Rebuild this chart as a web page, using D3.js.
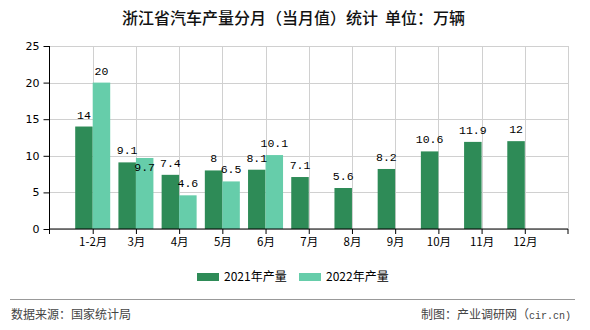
<!DOCTYPE html>
<html>
<head>
<meta charset="utf-8">
<script src="https://cdn.jsdelivr.net/npm/d3@7/dist/d3.min.js"></script>
<style>
  html, body { margin: 0; padding: 0; background: #fff; }
  svg { display: block; font-family: "Noto Sans CJK SC", "DejaVu Sans", sans-serif; }
</style>
</head>
<body>
<svg id="chart" width="590" height="330"></svg>
<script>
// Monthly car output of Zhejiang province (10k vehicles)
const months = ["1-2月", "3月", "4月", "5月", "6月", "7月", "8月", "9月", "10月", "11月", "12月"];
const output2021 = [14, 9.1, 7.4, 8, 8.1, 7.1, 5.6, 8.2, 10.6, 11.9, 12];
const output2022 = [20, 9.7, 4.6, 6.5, 10.1, null, null, null, null, null, null];
const seriesNames = ["2021年产量", "2022年产量"];
const seriesColors = ["#2e8b57", "#66cdaa"];
const yTicks = [0, 5, 10, 15, 20, 25];

(function () {
const svg = d3.select("#chart");
const plotL = 49.5, plotR = 568, plotT = 46, plotB = 229;
const mono = "'Liberation Mono', 'DejaVu Sans Mono', monospace";

const x = d3.scalePoint().domain(months).range([plotL, plotR]).padding(1);
const y = d3.scaleLinear().domain([0, 25]).range([plotB, plotT]);
const step = x.step();
const barW = step * 0.405;

// title
svg.append("text")
  .attr("x", 293.5).attr("y", 18)
  .attr("dy", "0.35em")
  .attr("text-anchor", "middle")
  .style("white-space", "pre")
  .attr("font-size", 16).attr("font-weight", 500).attr("fill", "#111")
  .text("浙江省汽车产量分月（当月值）统计  单位：万辆");

// grid
const grid = svg.append("g").attr("stroke", "#d0d0d0").attr("stroke-width", 1);
yTicks.forEach(t => {
  grid.append("line").attr("x1", plotL).attr("x2", plotR)
    .attr("y1", Math.round(y(t)) + 0.5).attr("y2", Math.round(y(t)) + 0.5);
});
const vLines = months.map(m => x(m)).concat([plotR]);
vLines.forEach(v => {
  grid.append("line").attr("x1", Math.round(v) + 0.5).attr("x2", Math.round(v) + 0.5)
    .attr("y1", plotT).attr("y2", plotB);
});

// bars
const series = [output2021, output2022];
series.forEach((vals, s) => {
  svg.append("g").selectAll("rect")
    .data(vals.map((v, i) => ({ v, m: months[i] })).filter(d => d.v != null))
    .join("rect")
    .attr("x", d => s === 0 ? x(d.m) - barW : x(d.m))
    .attr("y", d => y(d.v))
    .attr("width", barW)
    .attr("height", d => plotB - y(d.v))
    .attr("fill", seriesColors[s]);
});

// value labels, with a simple overlap check between neighbouring labels
const labelFont = 11.5, charW = 6.9;
const labels = [];
series.forEach((vals, s) => {
  vals.forEach((v, i) => {
    if (v == null) return;
    const cx = s === 0 ? x(months[i]) - barW / 2 : x(months[i]) + barW / 2;
    const txt = String(v);
    labels.push({ s, i, v, txt, cx, cy: y(v) - 12, w: txt.length * charW });
  });
});
labels.forEach(a => {
  if (a.s !== 1) return;
  const b = labels.find(l => l.s === 0 && l.i === a.i);
  if (!b) return;
  const gap = (a.cx - a.w / 2) - (b.cx + b.w / 2);
  if (gap < 2 && Math.abs(a.cy - b.cy) < 12) a.cy = y(a.v) + 9;
});
svg.append("g").selectAll("text")
  .data(labels)
  .join("text")
  .attr("x", d => d.cx).attr("y", d => d.cy)
  .attr("dy", "0.35em")
  .attr("text-anchor", "middle")
  .style("font-family", mono)
  .attr("font-size", labelFont).attr("fill", "#000")
  .text(d => d.txt);

// axes
const yAxis = svg.append("g")
  .attr("transform", `translate(${plotL},0)`)
  .call(d3.axisLeft(y).tickValues(yTicks).tickSize(6).tickPadding(4));
yAxis.selectAll("text").attr("font-size", 11).attr("fill", "#000")
  .style("font-family", "'DejaVu Sans', sans-serif");
yAxis.selectAll("line, path").attr("stroke", "#000");
yAxis.select(".domain").attr("d", `M0,${plotT}V${plotB}`);

const xAxis = svg.append("g")
  .attr("transform", `translate(0,${plotB})`)
  .call(d3.axisBottom(x).tickSize(5).tickPadding(4));
xAxis.selectAll("text").attr("font-size", 11.5).attr("fill", "#000")
  .style("font-family", "'Noto Sans CJK SC', sans-serif");
xAxis.selectAll("line, path").attr("stroke", "#000");
xAxis.select(".domain").attr("d", `M${plotL},0H${plotR}`);
[plotL, plotR].forEach(v => {
  xAxis.append("line").attr("x1", v).attr("x2", v).attr("y1", 0).attr("y2", 5)
    .attr("stroke", "#000");
});

// legend
const legend = svg.append("g").attr("transform", "translate(197,277)");
const legendX = [0, 102];
seriesNames.forEach((name, s) => {
  const g = legend.append("g").attr("transform", `translate(${legendX[s]},0)`);
  g.append("rect").attr("x", 0).attr("y", -4).attr("width", 22).attr("height", 8)
    .attr("fill", seriesColors[s]);
  g.append("text").attr("x", 27).attr("y", 0).attr("dy", "0.35em")
    .attr("font-size", 12).attr("fill", "#000").text(name);
});

// footer
svg.append("line").attr("x1", 10).attr("x2", 575).attr("y1", 299.5).attr("y2", 299.5)
  .attr("stroke", "#999").attr("stroke-width", 1);
svg.append("text").attr("x", 11).attr("y", 315).attr("dy", "0.35em")
  .attr("font-size", 12).attr("fill", "#444").text("数据来源：国家统计局");
const credit = svg.append("text").attr("x", 571).attr("y", 315).attr("dy", "0.35em")
  .attr("text-anchor", "end")
  .attr("font-size", 12).attr("fill", "#444");
credit.append("tspan").text("制图：产业调研网（");
credit.append("tspan").style("font-family", mono).attr("font-size", 10).text("cir.cn)");
})();
</script>
</body>
</html>
